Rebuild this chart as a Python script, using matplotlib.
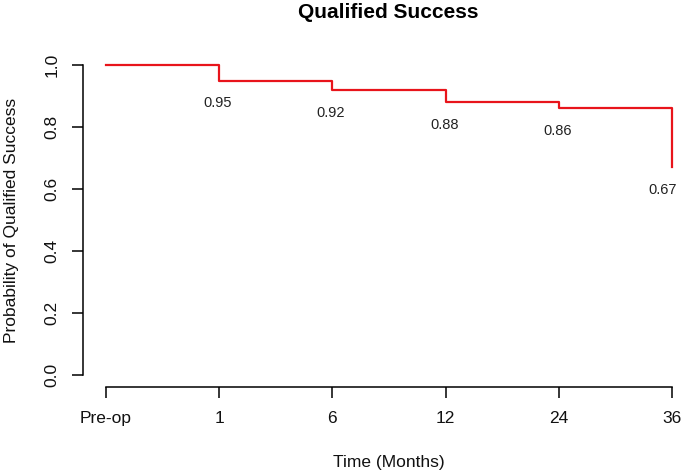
import matplotlib
matplotlib.use("Agg")
import matplotlib.pyplot as plt

# Data
categories = ["Pre-op", "1", "6", "12", "24", "36"]
survival = [1.0, 0.95, 0.92, 0.88, 0.86, 0.67]
labels = ["0.95", "0.92", "0.88", "0.86", "0.67"]
yticks = [0.0, 0.2, 0.4, 0.6, 0.8, 1.0]
ytick_labels = ["0.0", "0.2", "0.4", "0.6", "0.8", "1.0"]

plt.rcParams['font.family'] = ['Liberation Sans', 'DejaVu Sans']

W, H = 684, 476
fig = plt.figure(figsize=(W / 100, H / 100), dpi=100)

# axes box in pixel coords
x_unit = (672 - 106) / 5.0
left_px = 106 - 0.2 * x_unit
right_px = 106 + 5.2 * x_unit
y_unit = 310.0
top_px = 65 - 0.04 * y_unit
bot_px = 375 + 0.04 * y_unit
ax = fig.add_axes([left_px / W, 1 - bot_px / H, (right_px - left_px) / W, (bot_px - top_px) / H])

xs = list(range(len(categories)))
ax.plot(xs, survival, drawstyle='steps-post', color='#e8141b', lw=1.6)

for i, lab in enumerate(labels):
    dx = -6.5 if i == len(labels) - 1 else -1.0
    ax.annotate(lab, (xs[i + 1], survival[i + 1]), xytext=(dx, -16.5),
                textcoords='offset points', ha='center', va='center',
                fontsize=10.5, color='#222222', annotation_clip=False)

ax.set_xlim(-0.2, 5.2)
ax.set_ylim(-0.04, 1.04)
for s in ['top', 'right']:
    ax.spines[s].set_visible(False)
ax.spines['left'].set_bounds(0, 1)
ax.spines['bottom'].set_bounds(0, 5)
for s in ['left', 'bottom']:
    ax.spines[s].set_linewidth(1.1)
    ax.spines[s].set_color('black')

ax.set_xticks(xs)
ax.set_xticklabels(categories)
ax.set_yticks(yticks)
ax.set_yticklabels(ytick_labels, rotation=90, va='center')
ax.tick_params(axis='both', length=8, width=1.1, color='black', labelsize=12.5,
               labelcolor='#111111')
ax.tick_params(axis='x', pad=9)
ax.tick_params(axis='y', pad=9)

fig.text(388 / W, 1 - 12 / H, "Qualified Success", ha='center', va='center',
         fontsize=15, fontweight='bold')
fig.text(389 / W, 1 - 462 / H, "Time (Months)", ha='center', va='center', fontsize=12.5,
         color='#111111')
fig.text(12 / W, 1 - 220 / H, "Probability of Qualified Success", ha='center', va='center',
         rotation=90, fontsize=12.5, color='#111111')

fig.savefig("out.png", dpi=100)
